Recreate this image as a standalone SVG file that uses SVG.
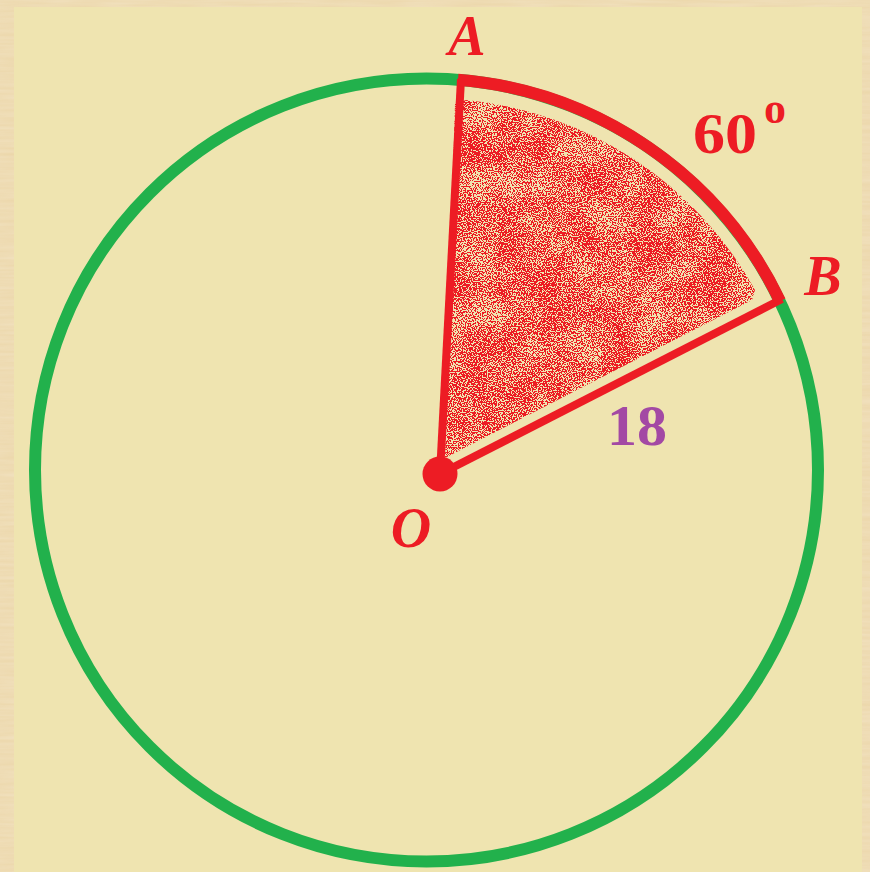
<svg xmlns="http://www.w3.org/2000/svg" width="870" height="872" viewBox="0 0 870 872">
<style>
.lbl{font-family:"Liberation Serif","Times New Roman",serif;font-weight:bold;font-style:italic;fill:#ED1C24;text-anchor:middle}
.num{font-family:"Liberation Serif","Times New Roman",serif;font-weight:bold;text-anchor:middle}
</style>
<defs>
<filter id="stip" filterUnits="userSpaceOnUse" x="430" y="80" width="360" height="400" color-interpolation-filters="sRGB">
<feTurbulence type="fractalNoise" baseFrequency="0.8" numOctaves="1" seed="7" result="hi"/>
<feColorMatrix in="hi" type="matrix" values="0 0 0 0 0  0 0 0 0 0  0 0 0 0 0  1 0 0 0 0" result="ha"/>
<feTurbulence type="fractalNoise" baseFrequency="0.03" numOctaves="2" seed="4" result="lo"/>
<feColorMatrix in="lo" type="matrix" values="0 0 0 0 0  0 0 0 0 0  0 0 0 0 0  1 0 0 0 0" result="la"/>
<feComposite in="ha" in2="la" operator="arithmetic" k2="2.5" k3="0.45" k4="-0.93" result="sum"/>
<feComponentTransfer in="sum" result="th"><feFuncA type="discrete" tableValues="0 0 0 0 0 1 1 1 1 1"/></feComponentTransfer>
<feFlood flood-color="#ED1C24" result="red"/>
<feComposite in="red" in2="th" operator="in" result="dots"/>
<feComposite in="dots" in2="SourceGraphic" operator="in"/>
</filter>
<filter id="wood" x="0" y="0" width="1" height="1">
<feTurbulence type="fractalNoise" baseFrequency="0.02 0.3" numOctaves="2" seed="2" result="w"/>
<feColorMatrix in="w" type="matrix" values="0 0 0 0 0.91  0 0 0 0 0.80  0 0 0 0 0.60  0 0 0 0.5 0.2"/>
<feComposite in2="SourceGraphic" operator="in"/>
</filter>
</defs>
<g id="frame">
<rect x="0" y="0" width="870" height="872" fill="#E9D2A0"/>
<rect x="0" y="0" width="870" height="872" fill="#D9BC85" filter="url(#wood)"/>
<rect x="14" y="7" width="848" height="865" fill="#EFE4B0"/>
</g>
<g id="circle">
<circle cx="426.5" cy="470" r="391.5" fill="none" stroke="#22B14C" stroke-width="12"/>
</g>
<g id="sector-shading">
<path d="M445 458 L455 104 L466 100 A372 372 0 0 1 755 290 L752 300 Z" fill="#000" filter="url(#stip)"/>
</g>
<g id="connectors">
<path d="M440 474 L461 79" fill="none" stroke="#ED1C24" stroke-width="8"/>
<path d="M440 474 L782 299" fill="none" stroke="#ED1C24" stroke-width="8"/>
<path d="M458 79.8 A391.5 391.5 0 0 1 780 301" fill="none" stroke="#ED1C24" stroke-width="12"/>
</g>
<g id="point-O">
<circle cx="440" cy="474" r="17.5" fill="#ED1C24"/>
<text class="lbl" x="411" y="547" font-size="56">O</text>
</g>
<g id="point-A">
<text class="lbl" x="467" y="55" font-size="56">A</text>
</g>
<g id="point-B">
<text class="lbl" x="823" y="295" font-size="56">B</text>
</g>
<g id="angle-label">
<text class="num" x="725" y="153" font-size="58" fill="#ED1C24" textLength="64" lengthAdjust="spacingAndGlyphs">60</text>
<text class="num" x="775" y="123" font-size="44" fill="#ED1C24">o</text>
</g>
<g id="radius-label">
<text class="num" x="637" y="445" font-size="56" fill="#A349A4" textLength="60" lengthAdjust="spacingAndGlyphs">18</text>
</g>
</svg>
